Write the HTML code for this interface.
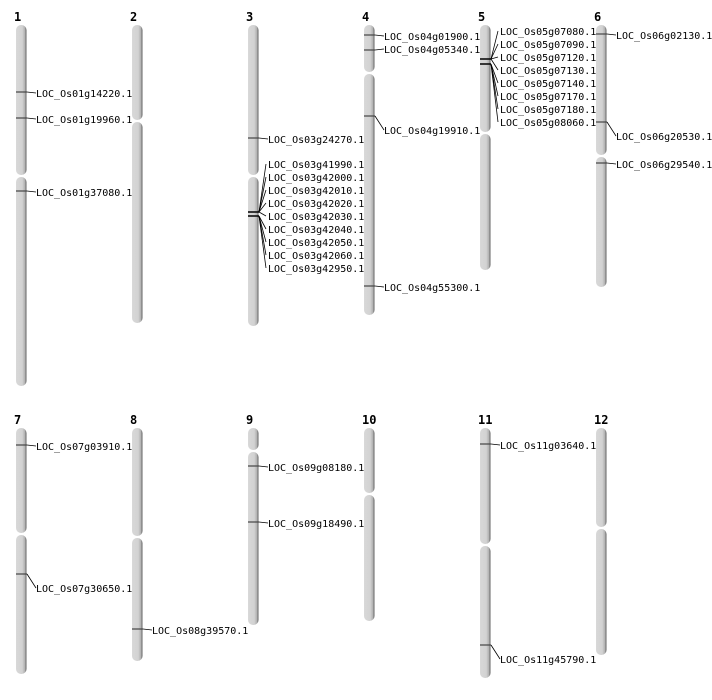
<!DOCTYPE html>
<html><head><meta charset="utf-8"><style>
html,body{margin:0;padding:0;background:#fff;width:712px;height:700px;overflow:hidden}
svg text{font-family:"DejaVu Sans Mono","Liberation Mono",monospace;font-size:10px;fill:#000}
svg text.n{font-family:"DejaVu Sans Mono","Liberation Mono",monospace;font-weight:bold;font-size:12px}
</style></head><body>
<svg id="s" width="712" height="700" xmlns="http://www.w3.org/2000/svg">
<defs><linearGradient id="g" x1="0" x2="1" y1="0" y2="0">
<stop offset="0" stop-color="#d8d8d8"/><stop offset="0.6" stop-color="#d2d2d2"/><stop offset="0.85" stop-color="#b0b0b0"/><stop offset="1" stop-color="#555"/></linearGradient></defs>
</svg>
<script>
var s=document.getElementById('s'),h='';
var chr=[
['1',16,25,386,176],['2',132,25,323,121],['3',248,25,326,176],['4',364,25,315,73],['5',480,25,270,133],['6',596,25,287,156],
['7',16,428,674,534],['8',132,428,661,537],['9',248,428,625,451],['10',364,428,621,494],['11',480,428,678,545],['12',596,428,655,528]];
chr.forEach(function(c){var x=c[1];
h+='<text class="n" x="'+(x-2)+'" y="'+(c[2]-4)+'">'+c[0]+'</text>';
h+='<rect x="'+x+'" y="'+c[2]+'" width="10.5" height="'+(c[4]-c[2]-1)+'" rx="5" fill="url(#g)"/>';
h+='<rect x="'+x+'" y="'+(c[4]+1)+'" width="10.5" height="'+(c[3]-c[4]-1)+'" rx="5" fill="url(#g)"/>';});
var m=[
[16,92,93,'LOC_Os01g14220.1'],[16,118,119,'LOC_Os01g19960.1'],[16,191,192,'LOC_Os01g37080.1'],
[248,138,139,'LOC_Os03g24270.1'],
[364,35,36,'LOC_Os04g01900.1'],[364,50,49,'LOC_Os04g05340.1'],[364,116,130,'LOC_Os04g19910.1'],[364,286,287,'LOC_Os04g55300.1'],
[596,34,35,'LOC_Os06g02130.1'],[596,122,136,'LOC_Os06g20530.1'],[596,163,164,'LOC_Os06g29540.1'],
[16,445,446,'LOC_Os07g03910.1'],[16,574,588,'LOC_Os07g30650.1'],
[132,629,630,'LOC_Os08g39570.1'],
[248,466,467,'LOC_Os09g08180.1'],[248,522,523,'LOC_Os09g18490.1'],
[480,444,445,'LOC_Os11g03640.1'],[480,645,659,'LOC_Os11g45790.1']];
m.forEach(function(a){var x=a[0];
h+='<line x1="'+x+'" x2="'+(x+11)+'" y1="'+a[1]+'" y2="'+a[1]+'" stroke="#444" stroke-width="1.2"/>';
h+='<polyline points="'+(x+11)+','+a[1]+' '+(x+20)+','+a[2]+'" fill="none" stroke="#000" stroke-width="0.8"/>';
h+='<text x="'+(x+20)+'" y="'+(a[2]+4)+'">'+a[3]+'</text>';});
function cl(x,ys,labs,l0){
 ys.forEach(function(y){h+='<line x1="'+x+'" x2="'+(x+11)+'" y1="'+y+'" y2="'+y+'" stroke="#000" stroke-width="1.5"/>';});
 labs.forEach(function(t,i){var ly=l0+13*i,my=ys[Math.min(ys.length-1,Math.floor(i*ys.length/labs.length))];
 h+='<line x1="'+(x+11)+'" y1="'+my+'" x2="'+(x+18)+'" y2="'+ly+'" stroke="#000" stroke-width="0.8"/>';
 h+='<text x="'+(x+20)+'" y="'+(ly+4)+'">'+t+'</text>';});}
cl(248,[212,216],['LOC_Os03g41990.1','LOC_Os03g42000.1','LOC_Os03g42010.1','LOC_Os03g42020.1','LOC_Os03g42030.1','LOC_Os03g42040.1','LOC_Os03g42050.1','LOC_Os03g42060.1','LOC_Os03g42950.1'],164);
cl(480,[59,64],['LOC_Os05g07080.1','LOC_Os05g07090.1','LOC_Os05g07120.1','LOC_Os05g07130.1','LOC_Os05g07140.1','LOC_Os05g07170.1','LOC_Os05g07180.1','LOC_Os05g08060.1'],31);
s.innerHTML+=h;
</script>
</body></html>
